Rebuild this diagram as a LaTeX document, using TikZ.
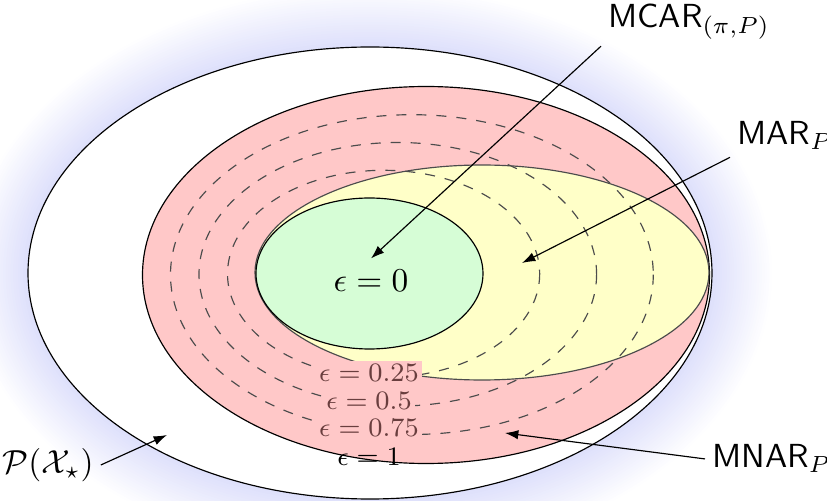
\documentclass[tikz,border=0pt]{standalone}
\usepackage{amsmath}
\usepackage{amssymb}
\usepackage{xcolor}
\usepackage{tikz}
\usetikzlibrary{arrows.meta}
\definecolor{mGlow}{RGB}{80,90,235}
\definecolor{mNar}{RGB}{255,200,200}
\definecolor{mAr}{RGB}{255,255,200}
\definecolor{mCar}{RGB}{214,253,214}
\definecolor{epsTxt}{RGB}{105,62,62}
\tikzset{
  region/.style={draw=black, line width=0.35pt},
  level/.style={draw=black!70, dashed, line width=0.35pt},
  epslbl/.style={font=\footnotesize, fill=mNar, text=epsTxt, inner sep=1pt},
  setlbl/.style={font=\normalsize, inner sep=2pt},
  ptr/.style={-{Latex[length=4pt,width=2.8pt]}, draw=black, line width=0.35pt},
}

\begin{document}
\begin{tikzpicture}[x=0.3pt, y=-0.3pt]
  \useasboundingbox (0,0) rectangle (827,501);
  % soft halo round the whole space
  \foreach \k in {1,...,24}
    \fill[mGlow, fill opacity=0.008] (370,273) ellipse [x radius={342+2.5*\k}, y radius={226+2.5*\k}];
  \filldraw[region, fill=white] (370,273) ellipse [x radius=342, y radius=226];
  % MNAR, MAR and MCAR sets
  \filldraw[region, fill=mNar] (426,275) ellipse [x radius=283.5, y radius=188.5];
  \filldraw[region, draw=black!70, fill=mAr] (482,272.5) ellipse [x radius=227, y radius=107.5];
  \draw[level] (383.6,273.9) ellipse [x radius=156.1, y radius=103.6];
  \draw[level] (397.8,274.3) ellipse [x radius=198.8, y radius=131.8];
  \draw[level] (411.9,274.6) ellipse [x radius=241.4, y radius=159.9];
  \filldraw[region, fill=mCar] (369.5,273.5) ellipse [x radius=113.5, y radius=75.5];
  % epsilon levels
  \node[font=\normalsize] (eps0) at (371,281) {$\epsilon=0$};
  \node[epslbl] (e25) at (369,373) {$\epsilon=0.25$};
  \node[epslbl] (e50) at (369,401) {$\epsilon=0.5$};
  \node[epslbl] (e75) at (369,428) {$\epsilon=0.75$};
  \node[epslbl, fill=none, text=black] (e100) at (369,457) {$\epsilon=1$};
  % names of the sets
  \node[setlbl, anchor=base west] (mcar) at (601,27) {\textsf{MCAR}$_{(\pi,P)}$};
  \node[setlbl, anchor=base west] (mar) at (730,145) {\textsf{MAR}$_P$};
  \node[setlbl, anchor=base west] (mnar) at (705,468) {\textsf{MNAR}$_P$};
  \node[setlbl] (pxs) at (48,465) {$\mathcal{P}(\mathcal{X}_\star)$};
  \coordinate (marIn) at (522,263);
  \coordinate (mnarIn) at (505,433);
  \coordinate (pxsIn) at (167,435);
  \draw[ptr] (mcar.south west) -- (eps0.north);
  \draw[ptr] (mar.south west) -- (marIn);
  \draw[ptr] (mnar.west) -- (mnarIn);
  \draw[ptr] (pxs.east) -- (pxsIn);
\end{tikzpicture}
\end{document}
